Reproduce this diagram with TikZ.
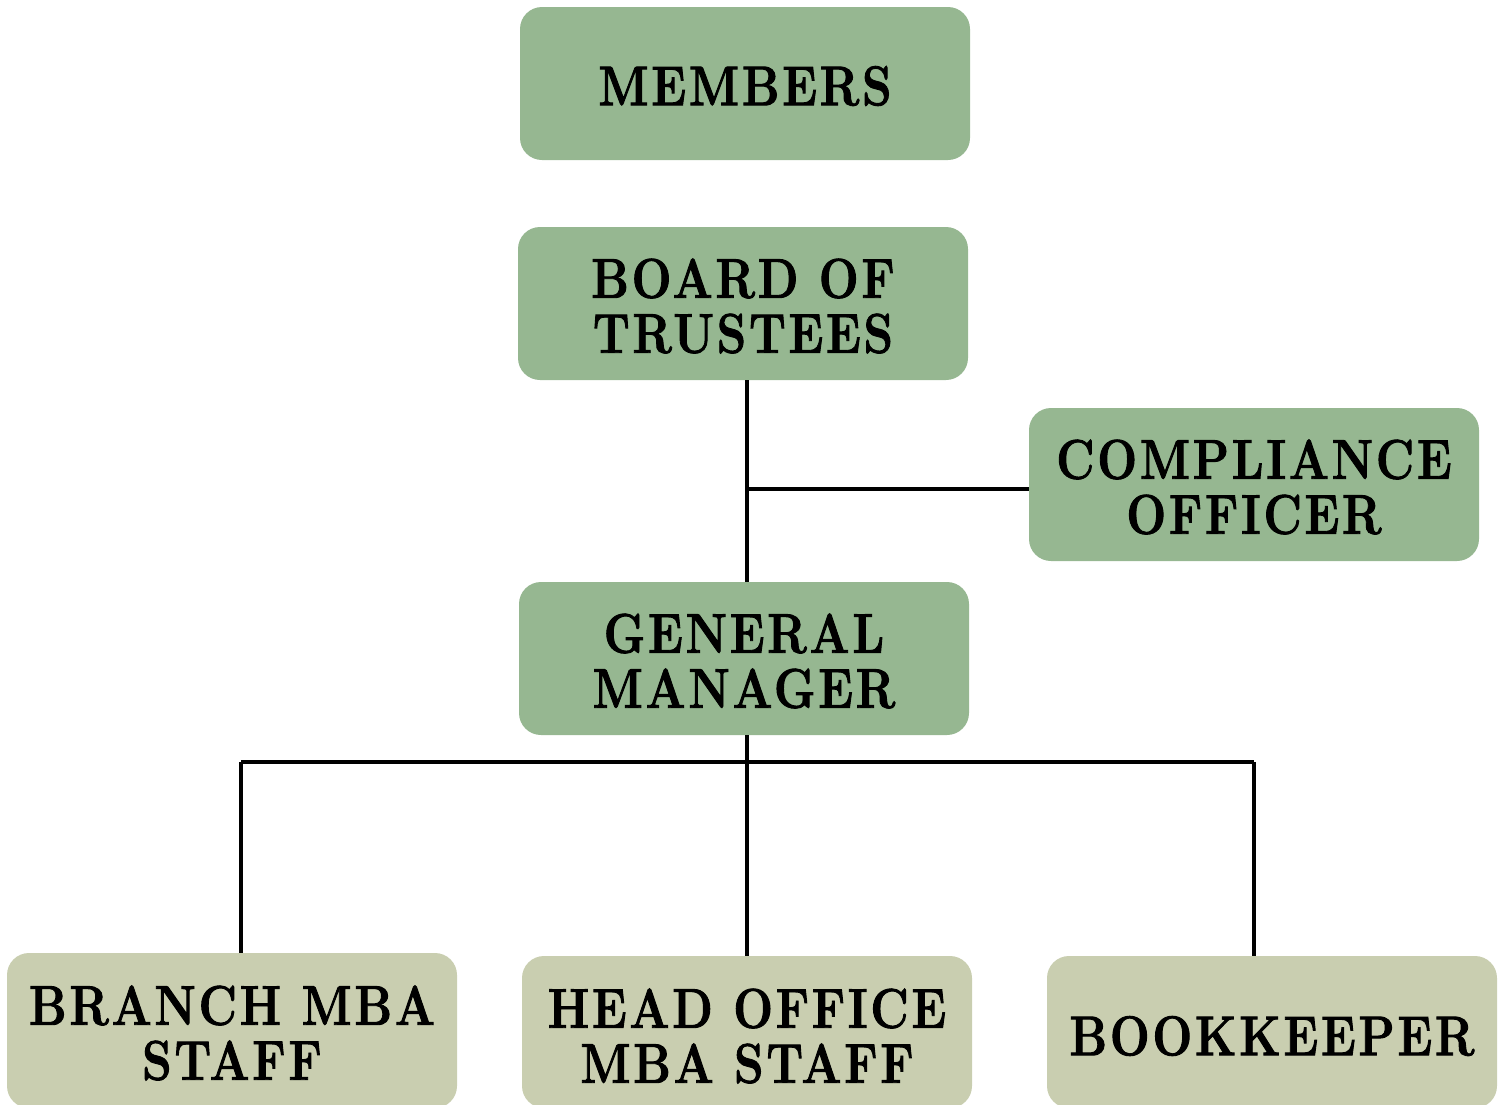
\documentclass[tikz,border=0pt]{standalone}
\usepackage{fontspec}
\setmainfont{Latin Modern Roman}
\definecolor{topgreen}{HTML}{96B791}
\definecolor{lowgreen}{HTML}{C9CEB0}
\begin{document}
\begin{tikzpicture}[x=1pt,y=-1pt,
  lbl/.style={font=\fontsize{56}{55}\selectfont\bfseries\addfontfeatures{FakeStretch=0.84,FakeBold=1.6,LetterSpace=5}, align=center, text=black, inner sep=0pt},
  topbox/.style={fill=topgreen, rounded corners=22pt},
  lowbox/.style={fill=lowgreen, rounded corners=22pt},
  conn/.style={line width=3.3pt, draw=black}]
\useasboundingbox (0,0) rectangle (1502,1104);
% boxes
\filldraw[topbox,draw=none] (520,7) rectangle (970,160);
\node[lbl] (members) at (745,86) {MEMBERS};
\filldraw[topbox,draw=none] (518,227) rectangle (968,380);
\node[lbl] (board) at (743,306) {BOARD OF\\TRUSTEES};
\filldraw[topbox,draw=none] (1029,408) rectangle (1479,561);
\node[lbl] (comp) at (1254,487) {COMPLIANCE\\OFFICER};
\filldraw[topbox,draw=none] (519,582) rectangle (969,735);
\node[lbl] (gm) at (744,661) {GENERAL\\MANAGER};
\filldraw[lowbox,draw=none] (7,953) rectangle (457,1108);
\node[lbl] (branch) at (232,1033) {BRANCH MBA\\STAFF};
\filldraw[lowbox,draw=none] (522,956) rectangle (972,1108);
\node[lbl] (head) at (747,1036) {HEAD OFFICE\\MBA STAFF};
\filldraw[lowbox,draw=none] (1047,956) rectangle (1497,1108);
\node[lbl] (book) at (1272,1036) {BOOKKEEPER};
% connectors
\coordinate (j1) at (747,489);
\coordinate (jl) at (241,762);
\coordinate (jr) at (1254,762);
\draw[conn] (747,380) -- (747,582);
\draw[conn] (j1) -- (1029,489);
\draw[conn] (747,735) -- (747,956);
\draw[conn] (jl) -- (jr);
\draw[conn] (jl) -- (241,953);
\draw[conn] (jr) -- (1254,956);
\end{tikzpicture}
\end{document}
